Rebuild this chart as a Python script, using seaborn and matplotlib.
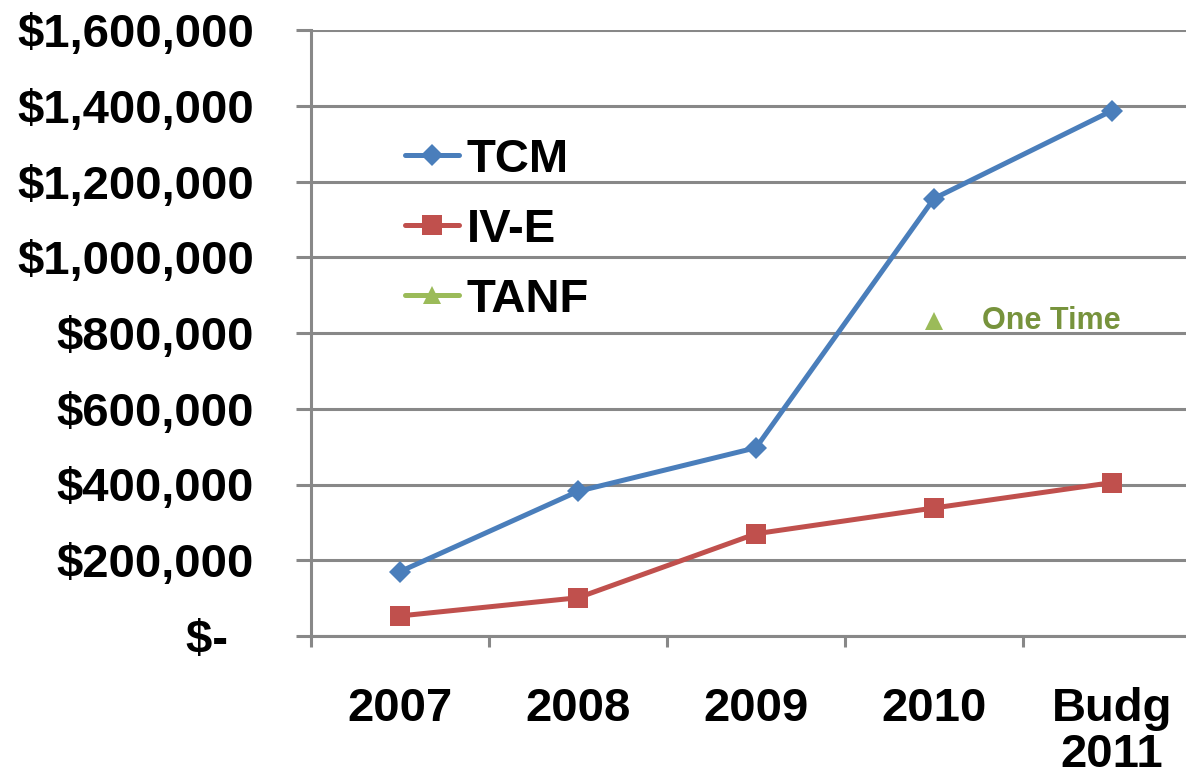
import numpy as np
import pandas as pd
import matplotlib
matplotlib.use('Agg')
import matplotlib.pyplot as plt
import matplotlib.ticker as mticker
import seaborn as sns

# data
categories = ['2007', '2008', '2009', '2010', 'Budg\n2011']
tcm = [170000, 382000, 497000, 1155000, 1387000]
ive = [53000, 101000, 270000, 338000, 405000]
tanf = [np.nan, np.nan, np.nan, 832000, np.nan]
y_ticks = [0, 200000, 400000, 600000, 800000, 1000000, 1200000, 1400000, 1600000]

df = pd.DataFrame({'pos': range(len(categories)), 'TCM': tcm, 'IV-E': ive, 'TANF': tanf})
long_df = df.melt(id_vars='pos', var_name='series', value_name='value').dropna()

sns.set_style('white')
plt.rcParams['font.family'] = ['Liberation Sans', 'DejaVu Sans']
plt.rcParams['text.color'] = 'black'

fig = plt.figure(figsize=(11.86, 7.83), dpi=100)
ax = fig.add_axes([311 / 1186, 147 / 783, 1 - 311 / 1186, (636 - 30) / 783])

palette = {'TCM': '#4a7ebb', 'IV-E': '#c0504d', 'TANF': '#9bbb59'}
markers = {'TCM': 'D', 'IV-E': 's', 'TANF': '^'}
sizes = {'TCM': 11, 'IV-E': 14, 'TANF': 13}

for name in ['IV-E', 'TCM', 'TANF']:
    sub = long_df[long_df['series'] == name]
    sns.lineplot(data=sub, x='pos', y='value', ax=ax, color=palette[name],
                 marker=markers[name], markersize=sizes[name], linewidth=3.6,
                 markeredgewidth=0, label=name, legend=False, zorder=3)

ax.text(3.27, 832000, 'One Time', color='#77933c', fontsize=22,
        fontweight='bold', va='center', ha='left')

ax.set_ylim(0, 1600000)
ax.set_xlim(-0.5, 4.416)
ax.set_yticks(y_ticks)
ax.yaxis.set_major_formatter(mticker.FuncFormatter(
    lambda v, p: '$-  ' if v == 0 else '${:,.0f}'.format(v)))
ax.set_xticks(range(len(categories)))
ax.set_xticklabels(categories, linespacing=1.05)
ax.set_xticks([-0.5, 0.5, 1.5, 2.5, 3.5], minor=True)

ax.grid(axis='y', color='#888888', linewidth=2.2)
ax.set_axisbelow(True)
for s in ['top', 'right']:
    ax.spines[s].set_visible(False)
for s in ['left', 'bottom']:
    ax.spines[s].set_color('#888888')
    ax.spines[s].set_linewidth(2.2)

ax.tick_params(axis='y', which='major', length=11, width=2.2, color='#888888',
               pad=30, labelsize=34, left=True, labelcolor='black')
ax.tick_params(axis='x', which='major', length=0, pad=37, labelsize=34, labelcolor='black')
ax.tick_params(axis='x', which='minor', length=8, width=2.2, color='#888888', bottom=True)
for lab in ax.get_yticklabels() + ax.get_xticklabels():
    lab.set_fontweight('bold')
ax.set_xlabel('')
ax.set_ylabel('')

handles, labels = ax.get_legend_handles_labels()
order = [labels.index(n) for n in ['TCM', 'IV-E', 'TANF']]
leg = fig.legend([handles[i] for i in order], [labels[i] for i in order],
                 loc='upper left', bbox_to_anchor=(405 / 1186, 1 - 138 / 783),
                 frameon=False, fontsize=34, handlelength=1.15, handletextpad=0.15,
                 labelspacing=0.55, borderpad=0, borderaxespad=0)
for t in leg.get_texts():
    t.set_fontweight('bold')
    t.set_color('black')

plt.savefig('out.png', dpi=100)
